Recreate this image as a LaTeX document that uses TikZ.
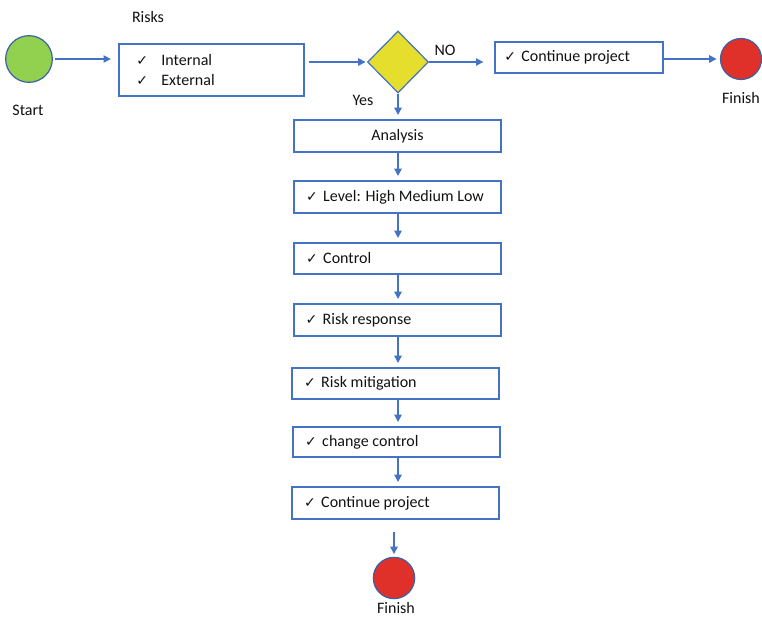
\documentclass[tikz,border=0pt]{standalone}
\usepackage{fontspec}
\setmainfont{Carlito}
\newfontfamily\symf{DejaVu Sans}
\usetikzlibrary{arrows.meta,shapes.geometric}
\definecolor{lineblue}{HTML}{4472C4}
\definecolor{startgreen}{HTML}{92D050}
\definecolor{decyellow}{HTML}{E6DE2C}
\definecolor{endred}{HTML}{E0302A}
\definecolor{txt}{HTML}{111111}
\newcommand{\ck}{{\symf\fontsize{10.5pt}{10.5pt}\selectfont ✓}}
\newcommand{\itemline}[2][137pt]{\makebox[#1][l]{\ck\hspace{4pt}#2}}
\tikzset{
  every node/.style={font=\fontsize{12pt}{15pt}\selectfont, text=txt},
  stepbox/.style={draw=lineblue, line width=1.5pt, minimum width=155.25pt,
    minimum height=24pt, inner xsep=9pt, inner ysep=0pt},
  endpoint/.style={circle, draw=lineblue!85!black, line width=0.9pt, inner sep=0pt},
  arr/.style={draw=lineblue, line width=1.1pt,
    -{Triangle[length=5.5pt,width=5.5pt]}},
  lbl/.style={inner sep=0pt}
}
\begin{document}
\begin{tikzpicture}[x=0.75pt,y=-0.75pt]
\useasboundingbox (0,0) rectangle (762,620);

% start, risk sources and the decision
\node[endpoint, fill=startgreen, minimum size=35pt] (start) at (29,59) {};
\node[lbl] (startlbl) at (28,110) {Start};
\node[lbl] (riskslbl) at (148,17) {Risks};
\node[stepbox, minimum width=138.75pt, minimum height=39pt, inner xsep=13pt,
      align=left] (risks) at (211,70.5)
  {\makebox[112pt][l]{\ck\hspace{10pt}Internal}\\ \makebox[112pt][l]{\ck\hspace{10pt}External}};
\node[diamond, draw=lineblue, line width=0.9pt, fill=decyellow,
      minimum width=45.75pt, minimum height=46.5pt, inner sep=0pt] (dia) at (398,62) {};
\node[lbl] (nolbl) at (445,50) {NO};
\node[lbl] (yeslbl) at (363,100) {Yes};

% "no" branch
\node[stepbox, minimum width=126pt, minimum height=23.25pt, inner xsep=7pt]
  (cont1) at (579,57.5) {\itemline[112pt]{Continue project}};
\node[endpoint, fill=endred, minimum size=30.75pt] (fin1) at (741,59) {};
\node[lbl] (fin1lbl) at (741,98) {Finish};

% "yes" branch
\node[stepbox] (analysis) at (397.5,136) {\makebox[137pt]{Analysis}};
\node[stepbox] (level) at (397.5,197) {\itemline{Level: High Medium Low}};
\node[stepbox, minimum height=23.25pt] (control) at (397.5,258.5) {\itemline{Control}};
\node[stepbox] (resp) at (397,320) {\itemline{Risk response}};
\node[stepbox, minimum height=23.25pt] (mitig) at (395.5,383.5) {\itemline{Risk mitigation}};
\node[stepbox, minimum height=22.5pt] (change) at (396.5,442) {\itemline{change control}};
\node[stepbox] (cont2) at (395.5,503) {\itemline{Continue project}};
\node[endpoint, fill=endred, minimum size=31pt] (fin2) at (394,578) {};
\node[lbl] (fin2lbl) at (396,608) {Finish};

% connectors
\draw[arr, shorten <=1.5pt, shorten >=5pt] (start) -- (risks.west |- start);
\draw[arr, shorten <=3pt, shorten >=1pt] (risks.east |- dia.west) -- (dia.west);
\draw[arr, shorten >=8pt] (dia.east) -- (dia.east -| cont1.west);
\draw[arr, shorten >=2.5pt] (cont1.east |- fin1) -- (fin1.west);
\draw[arr, shorten >=3pt] (dia.south) -- (dia.south |- analysis.north);
\draw[arr, shorten >=3pt] (analysis.south -| dia) -- (level.north -| dia);
\draw[arr, shorten >=3pt] (level.south -| dia) -- (control.north -| dia);
\draw[arr, shorten >=3pt] (control.south -| dia) -- (resp.north -| dia);
\draw[arr, shorten >=3pt] (resp.south -| dia) -- (mitig.north -| dia);
\draw[arr, shorten >=3pt] (mitig.south -| dia) -- (change.north -| dia);
\draw[arr, shorten >=3pt] (change.south -| dia) -- (cont2.north -| dia);
\draw[arr, shorten <=9pt, shorten >=2pt] (cont2.south -| fin2) -- (fin2.north);
\end{tikzpicture}
\end{document}
